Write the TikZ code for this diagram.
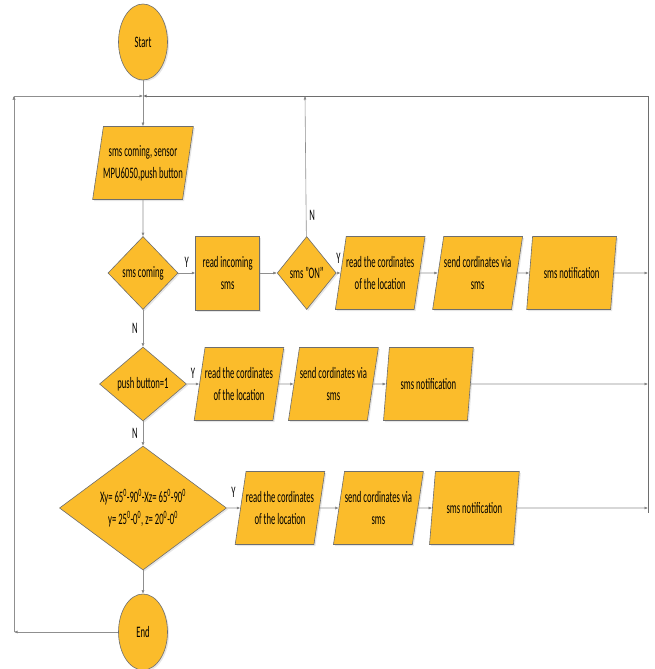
\documentclass[tikz,border=0pt]{standalone}
\usepackage{fontspec}
\setmainfont{Carlito}[FakeStretch=0.54]
\usetikzlibrary{arrows.meta}
\usetikzlibrary{positioning}
\usetikzlibrary{shapes.geometric}
\usetikzlibrary{shadows}

\definecolor{flowfill}{HTML}{FBBC2B}
\definecolor{flowline}{HTML}{6E6E6E}
\definecolor{linkgray}{HTML}{8F8F8F}

\tikzset{
    box/.style={draw=flowline, line width=0.6pt, fill=flowfill, align=center,
        font=\fontsize{16}{22}\selectfont, inner sep=0pt,
        drop shadow={opacity=0.2, shadow xshift=1.5pt, shadow yshift=-1.5pt}},
    terminal/.style={box, ellipse, minimum width=49pt, minimum height=76pt},
    inout/.style={box, trapezium, trapezium left angle=78, trapezium right angle=102,
        trapezium stretches=true, inner xsep=-12pt, minimum width=90pt, minimum height=73pt},
    process/.style={box, rectangle, minimum width=64pt, minimum height=74pt},
    decision/.style={box, diamond, minimum width=70pt, minimum height=73pt},
    flow/.style={draw=linkgray, line width=0.6pt, -{Latex[length=3.5pt,width=3pt]}},
    backline/.style={draw=flowline, line width=0.9pt},
    lbl/.style={font=\fontsize{16}{16}\selectfont, inner sep=1pt}
}

\begin{document}
\begin{tikzpicture}[x=1pt, y=1pt]
    \useasboundingbox (0,0) rectangle (654,-669);

    % main column
    \node[terminal] (start) at (143,-42) {Start};
    \node[inout, minimum width=101pt] (input) at (143,-163) {sms coming, sensor\\MPU6050,push button};
    \node[decision] (smsin) at (143,-273) {sms coming};
    \node[decision, minimum width=87pt, minimum height=74pt] (button) at (143,-384) {push button=1};
    \node[decision, minimum width=167pt, minimum height=100pt] (angle) at (143,-508)
        {Xy= 65\textsuperscript{0}-90\textsuperscript{0}-Xz= 65\textsuperscript{0}-90\textsuperscript{0}\\
         y= 25\textsuperscript{0}-0\textsuperscript{0}, z= 20\textsuperscript{0}-0\textsuperscript{0}};
    \node[terminal] (end) at (143,-632) {End};

    % row 1
    \node[process] (readsms) [right=17pt of smsin] {read incoming\\sms};
    \node[decision, minimum width=59pt] (smson) [right=17pt of readsms] {sms "ON"};
    \node[inout] (loc1) [right=4pt of smson] {read the cordinates\\of the location};
    \node[inout] (send1) [right=18pt of loc1] {send cordinates via\\sms};
    \node[inout] (note1) [right=12pt of send1] {sms notification};

    % row 2
    \node[inout] (loc2) [right=12.5pt of button] {read the cordinates\\of the location};
    \node[inout] (send2) [right=15pt of loc2] {send cordinates via\\sms};
    \node[inout] (note2) [right=13pt of send2] {sms notification};

    % row 3
    \node[inout] (loc3) [right=13.5pt of angle] {read the cordinates\\of the location};
    \node[inout] (send3) [right=19pt of loc3] {send cordinates via\\sms};
    \node[inout] (note3) [right=14pt of send3] {sms notification};

    % loop corners
    \coordinate (join) at (143,-96);
    \coordinate (topleft) at (14,-96);
    \coordinate (topright) at (648,-96);
    \coordinate (botleft) at (14,-632);
    \coordinate (botright) at (648,-513);
    \coordinate (ontop) at (305,-96);

    \path[flow]
        (start) edge (input)
        (input) edge (smsin)
        (smsin) edge node[lbl, above=4pt] {Y} (readsms)
        (readsms) edge (smson)
        (smson) edge node[lbl, above=8pt] {Y} (loc1)
        (loc1) edge (send1)
        (send1) edge (note1)
        (smsin) edge node[lbl, left=4pt] {N} (button)
        (button) edge node[lbl, above=4pt] {Y} (loc2)
        (loc2) edge (send2)
        (send2) edge (note2)
        (button) edge node[lbl, left=4pt] {N} (angle)
        (angle) edge node[lbl, above=9pt] {Y} (loc3)
        (loc3) edge (send3)
        (send3) edge (note3)
        (angle) edge (end)
        (smson) edge node[lbl, right=2pt, pos=0.15] {N} (ontop)
        (note1) edge (note1.east -| topright)
        (note2) edge (note2.east -| topright)
        (note3) edge (note3.east -| topright)
        (end) edge (botleft)
        (botleft) edge (topleft)
        (topleft) edge (join);
    \draw[backline] (topright) -- (botright);
    \draw[backline, -{Latex[length=3.5pt,width=3pt]}] (topright) -- (join);
\end{tikzpicture}
\end{document}
